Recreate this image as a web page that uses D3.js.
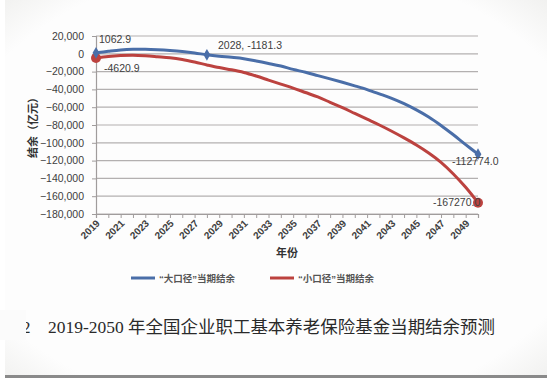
<!DOCTYPE html>
<html><head><meta charset="utf-8">
<script src="https://cdn.jsdelivr.net/npm/d3@7/dist/d3.min.js"></script>
<style>
html,body{margin:0;padding:0;background:#fff;}
svg{display:block;}
</style></head>
<body>
<svg id="c" width="547" height="378"></svg>
<script>
const years = d3.range(2019, 2051);
const bigCaliber = [1062.9, 2800, 4300, 5000, 5000, 4500, 3700, 2600, 1000, -1181.3,
  -2800, -4000, -5500, -8000, -10800, -13800, -17500, -20800, -24500, -28200,
  -32000, -36000, -40200, -45000, -50000, -56000, -63000, -71000, -80500, -91000,
  -102000, -112774.0];
const smallCaliber = [-4620.9, -3000, -2000, -1600, -2200, -3300, -4500, -6500, -9300, -12500,
  -15500, -18000, -21000, -25000, -29500, -34000, -38500, -43500, -48500, -54500,
  -60500, -67000, -73500, -80000, -87000, -94500, -102500, -111500, -122000, -135000,
  -150000, -167270.0];
const yTicks = d3.range(20000, -180001, -20000);
const xTickYears = d3.range(2019, 2050, 2);
const seriesNames = ["“大口径”当期结余", "“小口径”当期结余"];
const blueLabels = [{year:2019, text:"1062.9"}, {year:2028, text:"2028, -1181.3"}, {year:2050, text:"-112774.0"}];
const redLabels = [{year:2019, text:"-4620.9"}, {year:2050, text:"-167270.0"}];
const caption = "2019-2050 年全国企业职工基本养老保险基金当期结余预测";

const svg = d3.select("#c");
const W = 547, H = 378;

// paper background with soft vignette
const defs = svg.append("defs");
const rg = defs.append("radialGradient").attr("id","vig").attr("cx","50%").attr("cy","50%").attr("r","75%");
rg.append("stop").attr("offset","80%").attr("stop-color","#fdfdfd");
rg.append("stop").attr("offset","100%").attr("stop-color","#ececea");
svg.append("rect").attr("width",W).attr("height",H).attr("fill","url(#vig)");
svg.append("rect").attr("x",0).attr("y",0).attr("width",5).attr("height",H).attr("fill","#ffffff");
svg.append("rect").attr("x",5).attr("y",H-3).attr("width",W-5).attr("height",3).attr("fill","#8a8a8a");

const x = d3.scaleLinear().domain([2019, 2050]).range([96, 478]);
const y = d3.scaleLinear().domain([-180000, 20000]).range([214, 36]);

const txt = "#404040";
const font = "'Liberation Sans', Arial, 'Noto Sans CJK SC', sans-serif";

// gridlines
svg.append("g").selectAll("line").data(yTicks).join("line")
  .attr("x1", x(2019)).attr("x2", x(2050))
  .attr("y1", d=>y(d)).attr("y2", d=>y(d))
  .attr("stroke", "#b3b0b0").attr("stroke-width", 1.2);

// y axis
const yAxis = d3.axisLeft(y).tickValues(yTicks).tickSize(4).tickPadding(8)
  .tickFormat(d3.format(","));
const gy = svg.append("g").attr("transform", `translate(${x(2019)},0)`).call(yAxis);
gy.select(".domain").attr("stroke", "#a09c9c").attr("stroke-width", 1.2);
gy.selectAll(".tick line").attr("stroke", "#a09c9c");
gy.selectAll("text").attr("font-family", font).attr("font-size", 10.5).attr("fill", txt);

// x axis (minor ticks every year, labels every 2 years)
const xAxis = d3.axisBottom(x).tickValues(years).tickSize(4).tickFormat(d => xTickYears.includes(d) ? d : "");
const gx = svg.append("g").attr("transform", `translate(0,${y(-180000)})`).call(xAxis);
gx.select(".domain").attr("stroke", "#a09c9c").attr("stroke-width", 1.2);
gx.selectAll(".tick line").attr("stroke", "#a09c9c");
gx.selectAll("text").attr("font-family", font).attr("font-size", 10).attr("font-weight","bold").attr("fill", txt)
  .attr("text-anchor","end").attr("dy", 0).attr("y", 0)
  .attr("transform","translate(4,10) rotate(-45)");

// axis titles
svg.append("text").attr("x", 287).attr("y", 257).attr("text-anchor","middle")
  .attr("font-family", font).attr("font-size", 11).attr("font-weight","bold").attr("fill","#333").text("年份");
svg.append("text").attr("transform","translate(37,125) rotate(-90)").attr("text-anchor","middle")
  .attr("font-family", font).attr("font-size", 11).attr("font-weight","bold").attr("fill","#333").text("结余（亿元）");

// lines
const line = d3.line().x((d,i)=>x(years[i])).y(d=>y(d)).curve(d3.curveCatmullRom);
const blue = "#4a6ea8", red = "#bc423f";
svg.append("path").datum(smallCaliber).attr("d", line).attr("fill","none").attr("stroke",red).attr("stroke-width",3);
svg.append("path").datum(bigCaliber).attr("d", line).attr("fill","none").attr("stroke",blue).attr("stroke-width",3);

// markers
const idx = yr => years.indexOf(yr);
svg.append("g").selectAll("circle").data(redLabels).join("circle")
  .attr("cx", d=>x(d.year)).attr("cy", d=>y(smallCaliber[idx(d.year)])).attr("r", 5).attr("fill", red);
svg.append("g").selectAll("path").data(blueLabels).join("path")
  .attr("transform", d=>`translate(${x(d.year)},${y(bigCaliber[idx(d.year)])})`)
  .attr("d", d3.symbol().type(d3.symbolDiamond).size(40)).attr("fill", blue);

// data labels
const lblPos = {"1062.9":[99,43,"start"], "2028, -1181.3":[218,49,"start"], "-112774.0":[452,165,"start"],
  "-4620.9":[104,72,"start"], "-167270.0":[433,206,"start"]};
svg.append("g").selectAll("text").data(blueLabels.concat(redLabels)).join("text")
  .attr("x", d=>lblPos[d.text][0]).attr("y", d=>lblPos[d.text][1]).attr("text-anchor", d=>lblPos[d.text][2])
  .attr("font-family", font).attr("font-size", 10.5).attr("fill", txt).text(d=>d.text);

// legend
const lg = svg.append("g");
[[131, blue, seriesNames[0]], [270, red, seriesNames[1]]].forEach(([lx, c, t]) => {
  lg.append("line").attr("x1", lx).attr("x2", lx+24).attr("y1", 278).attr("y2", 278).attr("stroke", c).attr("stroke-width", 3);
  lg.append("text").attr("x", lx+28).attr("y", 281.5).attr("font-family", font).attr("font-size", 9.5)
    .attr("font-weight","bold").attr("fill","#555").text(t);
});

// caption
svg.append("text").attr("x", 22).attr("y", 333).attr("font-family", "'Liberation Serif','Noto Sans CJK SC',serif")
  .attr("font-size", 17).attr("fill","#2a2a2a").text("2");
svg.append("rect").attr("x",0).attr("y",310).attr("width",26).attr("height",30).attr("fill","#fbfbfb");
svg.append("text").attr("x", 48).attr("y", 333).attr("font-family", "'Liberation Serif','Noto Sans CJK SC',serif")
  .attr("font-size", 17).attr("fill","#2a2a2a").attr("textLength", 447).attr("lengthAdjust","spacingAndGlyphs").text(caption);
</script>
</body></html>
